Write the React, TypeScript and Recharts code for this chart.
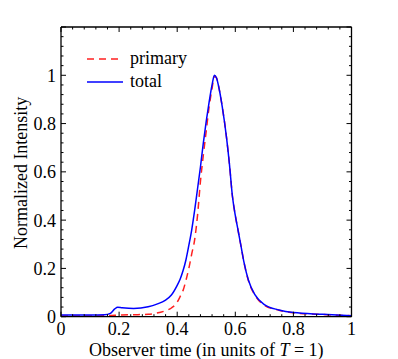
import React from 'react';
import { LineChart, Line, XAxis, YAxis, Legend } from 'recharts';

// observer time (units of T = 1)
const times = [0, 0.05, 0.1, 0.15, 0.17, 0.185, 0.195, 0.21, 0.25, 0.3, 0.33, 0.36, 0.38, 0.4, 0.41, 0.42, 0.43, 0.44, 0.45, 0.46, 0.47, 0.48, 0.49, 0.5, 0.51, 0.52, 0.528, 0.535, 0.545, 0.555, 0.57, 0.58, 0.59, 0.6, 0.61, 0.62, 0.63, 0.645, 0.668, 0.7, 0.75, 0.8, 0.9, 1];
const totalIntensity = [0.007, 0.007, 0.007, 0.008, 0.014, 0.032, 0.039, 0.037, 0.034, 0.041, 0.052, 0.069, 0.09, 0.13, 0.155, 0.19, 0.235, 0.295, 0.36, 0.44, 0.53, 0.62, 0.72, 0.81, 0.89, 0.96, 1.0, 0.99, 0.94, 0.87, 0.74, 0.63, 0.5, 0.42, 0.355, 0.29, 0.225, 0.152, 0.09, 0.05, 0.028, 0.017, 0.01, 0.004];
const primaryIntensity = [0.003, 0.003, 0.003, 0.004, 0.005, 0.006, 0.006, 0.007, 0.008, 0.01, 0.015, 0.025, 0.036, 0.06, 0.083, 0.108, 0.15, 0.2, 0.26, 0.318, 0.42, 0.56, 0.67, 0.77, 0.87, 0.945, 0.995, 0.99, 0.94, 0.87, 0.74, 0.63, 0.5, 0.42, 0.355, 0.29, 0.224, 0.15, 0.088, 0.048, 0.027, 0.016, 0.009, 0.004];

const xTicks = [0, 0.04, 0.08, 0.12, 0.16, 0.2, 0.24, 0.28, 0.32, 0.36, 0.4, 0.44, 0.48, 0.52, 0.56, 0.6, 0.64, 0.68, 0.72, 0.76, 0.8, 0.84, 0.88, 0.92, 0.96, 1];
const yTicks = [0, 0.04, 0.08, 0.12, 0.16, 0.2, 0.24, 0.28, 0.32, 0.36, 0.4, 0.44, 0.48, 0.52, 0.56, 0.6, 0.64, 0.68, 0.72, 0.76, 0.8, 0.84, 0.88, 0.92, 0.96, 1, 1.04, 1.08, 1.12, 1.16, 1.2];
const tickLabels = [0, 0.2, 0.4, 0.6, 0.8, 1];

const data = times.map((t, i) => ({ t, primary: primaryIntensity[i], total: totalIntensity[i] }));

const FONT = '"Liberation Serif", "Times New Roman", serif';
const MAJOR = 5;
const MINOR = 2.5;
const BOTTOM_GAP = 6;
const LEFT_GAP = 5;

const isMajor = (v: number) => Math.abs(v * 5 - Math.round(v * 5)) < 1e-6;
const hasLabel = (v: number) => tickLabels.some((l) => Math.abs(l - v) < 1e-6);

const renderTick = (side: string) => (props: any) => {
  const { x, y, payload } = props;
  const v = payload.value;
  const len = isMajor(v) ? MAJOR : MINOR;
  const label = hasLabel(v) ? String(v) : '';
  if (side === 'bottom') {
    return (
      <g>
        <line x1={x} x2={x} y1={y - BOTTOM_GAP} y2={y - BOTTOM_GAP - len} stroke="#000" strokeWidth={1} />
        <text x={x} y={y} dy="0.71em" textAnchor="middle" fontFamily={FONT} fontSize={18} fill="#000">{label}</text>
      </g>
    );
  }
  if (side === 'left') {
    return (
      <g>
        <line x1={x + LEFT_GAP} x2={x + LEFT_GAP + len} y1={y} y2={y} stroke="#000" strokeWidth={1} />
        <text x={x} y={y} dy="0.355em" textAnchor="end" fontFamily={FONT} fontSize={18} fill="#000">{label}</text>
      </g>
    );
  }
  if (side === 'top') {
    return <line x1={x} x2={x} y1={y} y2={y + len} stroke="#000" strokeWidth={1} />;
  }
  return <line x1={x} x2={x - len} y1={y} y2={y} stroke="#000" strokeWidth={1} />;
};

const LegendBox = (props: any) => {
  const items = props.payload || [];
  return (
    <div style={{ fontFamily: FONT, fontSize: 18, color: '#000' }}>
      {items.map((item: any) => (
        <div key={item.value} style={{ display: 'flex', alignItems: 'center', height: 23 }}>
          <svg width={36} height={4} style={{ marginRight: 7 }}>
            <line x1={0} x2={36} y1={2} y2={2} stroke={item.color} strokeWidth={1.5}
              strokeDasharray={item.payload && item.payload.strokeDasharray} />
          </svg>
          <span>{item.value}</span>
        </div>
      ))}
    </div>
  );
};

export default function App() {
  return (
    <div style={{ position: 'absolute', left: 0, top: 0, width: 398, height: 359, background: '#fff' }}>
      <LineChart width={398} height={359} data={data} margin={{ top: 26, right: 45.5, bottom: 12.3, left: 0 }}>
        <XAxis dataKey="t" type="number" domain={[0, 1]} allowDataOverflow ticks={xTicks} interval={0}
          height={30} tickSize={0} tickMargin={BOTTOM_GAP} tickLine={false}
          axisLine={{ stroke: '#000', strokeWidth: 1.3 }} tick={renderTick('bottom')}
          label={{
            content: (p: any) => {
              const vb = p.viewBox;
              return (
                <text x={vb.x + vb.width / 2} y={vb.y + 39.5} textAnchor="middle" fontFamily={FONT} fontSize={18} fill="#000">
                  Observer time (in units of <tspan fontStyle="italic">T</tspan> = 1)
                </text>
              );
            },
          }} />
        <XAxis xAxisId="top" orientation="top" dataKey="t" type="number" domain={[0, 1]} allowDataOverflow ticks={xTicks}
          interval={0} height={1} tickSize={0} tickMargin={0} tickLine={false}
          axisLine={{ stroke: '#000', strokeWidth: 1.3 }} tick={renderTick('top')} />
        <YAxis type="number" domain={[0, 1.2]} allowDataOverflow ticks={yTicks} interval={0} width={61}
          tickSize={0} tickMargin={LEFT_GAP} tickLine={false}
          axisLine={{ stroke: '#000', strokeWidth: 1.3 }} tick={renderTick('left')}
          label={{
            content: (p: any) => {
              const vb = p.viewBox;
              const cx = vb.x + 27;
              const cy = vb.y + vb.height / 2 + 1;
              return (
                <text x={cx} y={cy} transform={`rotate(-90, ${cx}, ${cy})`} textAnchor="middle" fontFamily={FONT} fontSize={18} fill="#000">
                  Normalized Intensity
                </text>
              );
            },
          }} />
        <YAxis yAxisId="right" orientation="right" type="number" domain={[0, 1.2]} allowDataOverflow ticks={yTicks}
          interval={0} width={1} tickSize={0} tickMargin={0} tickLine={false}
          axisLine={{ stroke: '#000', strokeWidth: 1.3 }} tick={renderTick('right')} />
        <Legend layout="vertical" verticalAlign="middle" align="center" content={<LegendBox />}
          wrapperStyle={{ left: 87, top: 47, width: 'auto', height: 'auto' }} />
        <Line name="primary" dataKey="primary" type="monotone" stroke="#ff2020" strokeWidth={1.5}
          strokeDasharray="7 5" dot={false} activeDot={false} isAnimationActive={false} />
        <Line name="total" dataKey="total" type="monotone" stroke="#0000ff" strokeWidth={1.5}
          dot={false} activeDot={false} isAnimationActive={false} />
      </LineChart>
    </div>
  );
}
